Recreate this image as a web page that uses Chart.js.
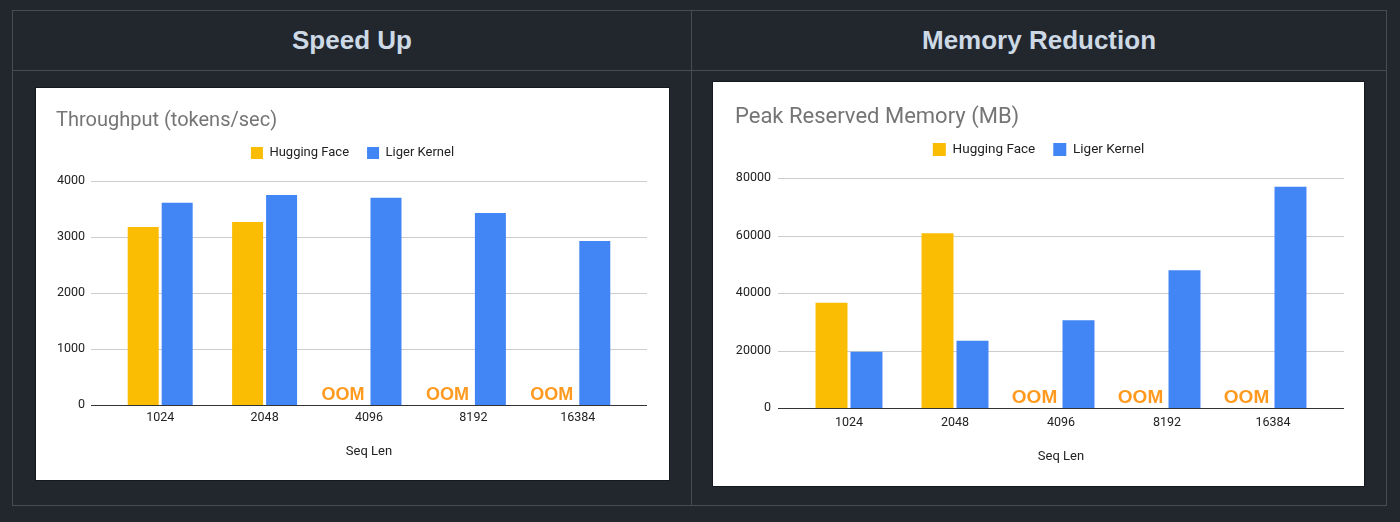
<!DOCTYPE html>
<html>
<head>
<meta charset="utf-8">
<script src="https://cdn.jsdelivr.net/npm/chart.js@4.4.1/dist/chart.umd.min.js"></script>
<style>
  html, body { margin: 0; padding: 0; background: #22272e; }
  body { width: 1400px; height: 522px; position: relative; overflow: hidden; font-family: "Liberation Sans", Arial, sans-serif; }
  .frame { position: absolute; left: 12px; top: 10px; width: 1373px; height: 494px; border: 1px solid #444c56; }
  .hline { position: absolute; left: 12px; top: 70px; width: 1375px; height: 1px; background: #444c56; }
  .vline { position: absolute; left: 691px; top: 10px; width: 1px; height: 496px; background: #444c56; }
  .head { position: absolute; top: 11px; height: 59px; line-height: 59px; text-align: center; color: #cdd9e5; font-size: 26px; font-weight: bold; }
  .card { position: absolute; background: #fff; box-shadow: 0 0 0 1px #15191f; }
  .card canvas { display: block; }
</style>
</head>
<body>
<div class="frame"></div>
<div class="hline"></div>
<div class="vline"></div>
<div class="head" style="left:13px;width:678px;">Speed Up</div>
<div class="head" style="left:692px;width:694px;">Memory Reduction</div>

<div class="card" style="left:36px;top:88px;width:633px;height:392px;">
  <canvas id="speed-chart" width="633" height="392"></canvas>
</div>
<div class="card" style="left:713px;top:82px;width:651px;height:404px;">
  <canvas id="memory-chart" width="651" height="404"></canvas>
</div>

<script>
// ----- Data -----
const seqLens = ["1024", "2048", "4096", "8192", "16384"];
const seriesNames = ["Hugging Face", "Liger Kernel"];
const seriesColors = ["#fbbc04", "#4285f4"];

const hfThroughput = [3180, 3270, null, null, null];
const ligerThroughput = [3610, 3750, 3700, 3430, 2930];

const hfMemory = [36600, 60800, null, null, null];
const ligerMemory = [19600, 23400, 30500, 47900, 77000];

const oomLabel = "OOM";

Chart.defaults.font.family = 'Roboto, "Liberation Sans", Arial, sans-serif';
Chart.defaults.color = "#222222";

// gridlines run a little past the bar area, like the Sheets export,
// and missing HF bars get an "OOM" tag
const sheetPlugin = {
  id: "sheet",
  beforeDatasetsDraw(chart, args, opts) {
    const { ctx, chartArea } = chart;
    const yScale = chart.scales.y;
    ctx.save();
    ctx.lineWidth = 1;
    ctx.strokeStyle = "#cccccc";
    yScale.ticks.forEach(t => {
      if (t.value === 0) return;
      const py = Math.round(yScale.getPixelForValue(t.value)) + 0.5;
      ctx.beginPath();
      ctx.moveTo(chartArea.left - opts.ext, py);
      ctx.lineTo(chartArea.right + opts.ext, py);
      ctx.stroke();
    });
    ctx.restore();
  },
  afterDatasetsDraw(chart, args, opts) {
    const { ctx, chartArea } = chart;
    const xScale = chart.scales.x;
    const yScale = chart.scales.y;
    const zero = Math.round(yScale.getPixelForValue(0)) + 0.5;
    ctx.save();
    ctx.strokeStyle = "#333333";
    ctx.lineWidth = 1;
    ctx.beginPath();
    ctx.moveTo(chartArea.left - opts.ext, zero);
    ctx.lineTo(chartArea.right + opts.ext, zero);
    ctx.stroke();

    const pitch = xScale.width / seqLens.length;
    ctx.fillStyle = "#ff9a1f";
    ctx.font = "bold " + opts.oomSize + 'px "Liberation Sans", Arial, sans-serif';
    ctx.textAlign = "center";
    ctx.textBaseline = "alphabetic";
    chart.data.datasets[0].data.forEach((v, i) => {
      if (v !== null) return;
      const x = xScale.getPixelForValue(i) - pitch * opts.catPct / 4 + opts.oomShift;
      ctx.fillText(oomLabel, x, zero - 6);
    });
    ctx.restore();
  }
};

const makeChart = (id, cfg) => {
  new Chart(document.getElementById(id), {
    type: "bar",
    data: {
      labels: seqLens,
      datasets: [
        { label: seriesNames[0], data: cfg.hf, backgroundColor: seriesColors[0], borderWidth: 0,
          categoryPercentage: cfg.catPct, barPercentage: cfg.barPct },
        { label: seriesNames[1], data: cfg.liger, backgroundColor: seriesColors[1], borderWidth: 0,
          categoryPercentage: cfg.catPct, barPercentage: cfg.barPct },
      ],
    },
    options: {
      responsive: false,
      animation: false,
      devicePixelRatio: 1,
      layout: { padding: { left: cfg.side, right: cfg.side, top: 0, bottom: 0 } },
      plugins: {
        title: {
          display: true, text: cfg.title, align: "start", color: "#757575",
          font: { size: cfg.titleSize, weight: "normal" },
          padding: { top: cfg.titleTop, bottom: cfg.titleBottom },
        },
        legend: {
          display: true, position: "top",
          labels: { boxWidth: cfg.box, boxHeight: cfg.box, padding: 18, color: "#222222",
                    font: { size: cfg.legendSize } },
        },
        // empty spacer between legend and plot
        subtitle: { display: true, text: "", weight: 500, font: { size: cfg.gap, lineHeight: 1 }, padding: 0 },
        tooltip: { enabled: false },
        sheet: { ext: cfg.ext, catPct: cfg.catPct, oomSize: cfg.oomSize, oomShift: -9 },
      },
      scales: {
        x: {
          grid: { display: false, drawTicks: false },
          border: { display: false },
          ticks: { padding: cfg.tickPad, color: "#222222", font: { size: 12.5 } },
          title: { display: true, text: "Seq Len", color: "#222222", font: { size: 13 },
                   padding: { top: 0, bottom: cfg.xTitleBottom } },
          afterFit: s => { s.height = cfg.xHeight; },
        },
        y: {
          min: 0, max: cfg.yMax,
          grid: { display: false, drawTicks: false },
          border: { display: false },
          ticks: { stepSize: cfg.yStep, padding: cfg.yPad, color: "#222222", font: { size: 12.5 },
                   callback: v => String(v) },
          afterFit: s => { s.width = cfg.yWidth; },
        },
        yr: {
          position: "right",
          grid: { display: false, drawTicks: false },
          border: { display: false },
          ticks: { display: false },
          afterFit: s => { s.width = cfg.rightWidth; },
        },
      },
    },
    plugins: [sheetPlugin],
  });
};

makeChart("speed-chart", {
  title: "Throughput (tokens/sec)", hf: hfThroughput, liger: ligerThroughput,
  yMax: 4000, yStep: 1000,
  side: 20, yWidth: 52, yPad: 23, rightWidth: 19, ext: 17,
  titleSize: 20, titleTop: 21, titleBottom: -4.5,
  legendSize: 13, box: 12, gap: 11.5,
  tickPad: 5, xTitleBottom: 20, xHeight: 75,
  catPct: 0.651, barPct: 0.912, oomSize: 18,
});

makeChart("memory-chart", {
  title: "Peak Reserved Memory (MB)", hf: hfMemory, liger: ligerMemory,
  yMax: 80000, yStep: 20000,
  side: 22, yWidth: 61, yPad: 25, rightWidth: 16, ext: 18,
  titleSize: 22, titleTop: 22.3, titleBottom: -5.95,
  legendSize: 13.5, box: 13, gap: 11.75,
  tickPad: 7, xTitleBottom: 21, xHeight: 78,
  catPct: 0.66, barPct: 0.914, oomSize: 19,
});
</script>
</body>
</html>
